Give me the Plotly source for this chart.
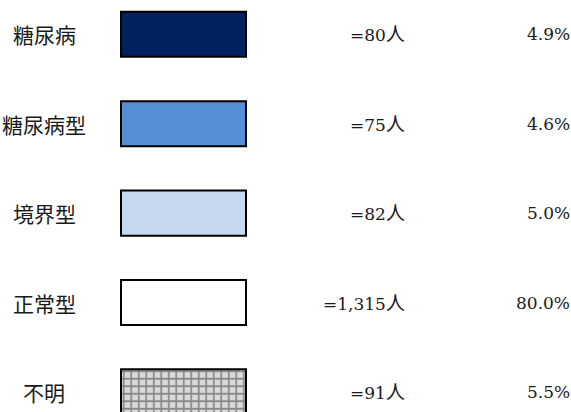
import plotly.graph_objects as go

# Glucose tolerance classification: counts and shares
categories = ["糖尿病", "糖尿病型", "境界型", "正常型", "不明"]
counts = [80, 75, 82, 1315, 91]
shares = [4.9, 4.6, 5.0, 80.0, 5.5]

swatch_colors = ["#002060", "#558ED5", "#C6D9F1", "#FFFFFF", "#D9D9D9"]

W, H = 571, 412

# swatch geometry in pixel units of the x axis
SWATCH_LEFT = 121
SWATCH_WIDTH = 125

fig = go.Figure()

for i, (cat, col) in enumerate(zip(categories, swatch_colors)):
    pattern = None
    if cat == "不明":
        pattern = dict(shape="+", size=7.5, solidity=0.4,
                       bgcolor="#D9D9D9", fgcolor="#888888", fillmode="replace")
    fig.add_trace(go.Bar(
        y=[i], x=[SWATCH_WIDTH], base=[SWATCH_LEFT], orientation="h",
        width=0.505,
        marker=dict(color=col, line=dict(color="#000000", width=2),
                    pattern=pattern),
        showlegend=False, hoverinfo="skip",
    ))

label_font = dict(family="Noto Sans CJK JP", size=21, color="#1A1A1A")
num_font = dict(family="DejaVu Serif, Noto Sans CJK JP", size=17, color="#1A1A1A")

annotations = []
for i, (cat, n, p) in enumerate(zip(categories, counts, shares)):
    annotations.append(dict(x=44, y=i, xref="x", yref="y", text=cat,
                            showarrow=False, xanchor="center", yanchor="middle",
                            font=label_font))
    annotations.append(dict(x=407, y=i, xref="x", yref="y",
                            text=f"={n:,}<span style='font-size:19px'>人</span>",
                            showarrow=False, xanchor="right", yanchor="middle",
                            font=num_font))
    annotations.append(dict(x=1, y=i, xref="paper", yref="y", xshift=1,
                            text=f"{p:.1f}%",
                            showarrow=False, xanchor="right", yanchor="middle",
                            font=num_font))

pitch = 89.4
center0 = 34.3
fig.update_layout(
    width=W, height=H,
    margin=dict(l=0, r=0, t=0, b=0),
    paper_bgcolor="white", plot_bgcolor="white",
    xaxis=dict(range=[0, W], visible=False, fixedrange=True),
    yaxis=dict(range=[(H - center0) / pitch, -center0 / pitch],
               visible=False, fixedrange=True),
    annotations=annotations,
    barmode="overlay",
)

fig.write_html("out.html", config={"displayModeBar": False})
